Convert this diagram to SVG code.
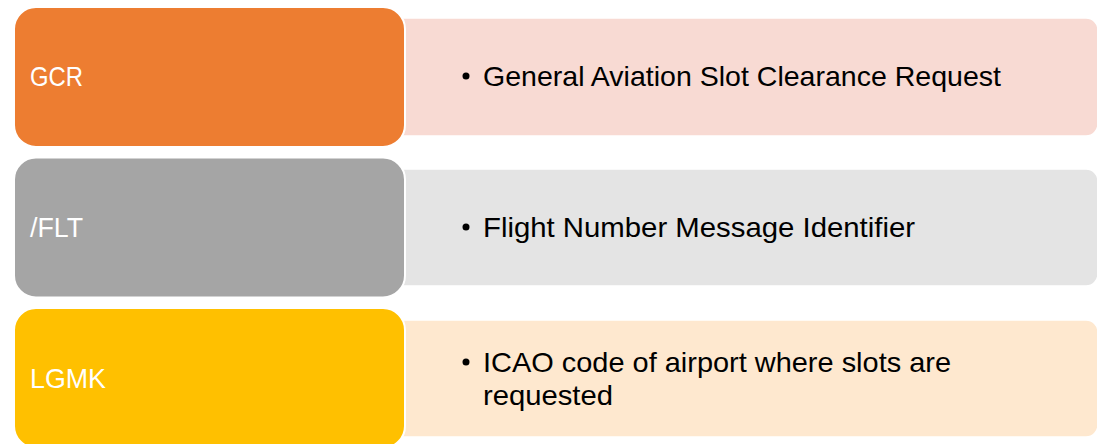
<svg xmlns="http://www.w3.org/2000/svg" width="1097" height="444" viewBox="0 0 1097 444">
<style>
.lt{stroke:#ffffff;stroke-width:1.5}
.hd{stroke:#ffffff;stroke-width:2}
.ht{font-family:"Liberation Sans",Arial,sans-serif;font-size:28px;fill:#ffffff}
.bt{font-family:"Liberation Sans",Arial,sans-serif;font-size:28px;fill:#000000}
</style>
<rect width="1097" height="444" fill="#ffffff"/>
<g id="row1">
<rect class="lt" x="380" y="18" width="718" height="118" rx="12" fill="#F8DAD3"/>
<rect class="hd" x="14" y="7" width="391" height="140" rx="22" fill="#ED7D31"/>
<text class="ht" x="30" y="86" textLength="53" lengthAdjust="spacingAndGlyphs">GCR</text>
<circle cx="466" cy="76" r="3.5" fill="#000"/>
<text class="bt" x="483" y="86" textLength="518" lengthAdjust="spacingAndGlyphs">General Aviation Slot Clearance Request</text>
</g>
<g id="row2">
<rect class="lt" x="380" y="169" width="718" height="117" rx="12" fill="#E4E4E4"/>
<rect class="hd" x="14" y="157.5" width="391" height="140" rx="22" fill="#A5A5A5"/>
<text class="ht" x="30" y="237" textLength="53" lengthAdjust="spacingAndGlyphs">/FLT</text>
<circle cx="466" cy="227" r="3.5" fill="#000"/>
<text class="bt" x="483" y="237" textLength="432" lengthAdjust="spacingAndGlyphs">Flight Number Message Identifier</text>
</g>
<g id="row3">
<rect class="lt" x="380" y="320" width="718" height="117" rx="12" fill="#FEE8CF"/>
<rect class="hd" x="14" y="308" width="391" height="140" rx="22" fill="#FFC000"/>
<text class="ht" x="30" y="388" textLength="76" lengthAdjust="spacingAndGlyphs">LGMK</text>
<circle cx="466" cy="362" r="3.5" fill="#000"/>
<text class="bt" x="483" y="372" textLength="468" lengthAdjust="spacingAndGlyphs">ICAO code of airport where slots are</text>
<text class="bt" x="483" y="405" textLength="130" lengthAdjust="spacingAndGlyphs">requested</text>
</g>
<g id="connectors"/>
</svg>
